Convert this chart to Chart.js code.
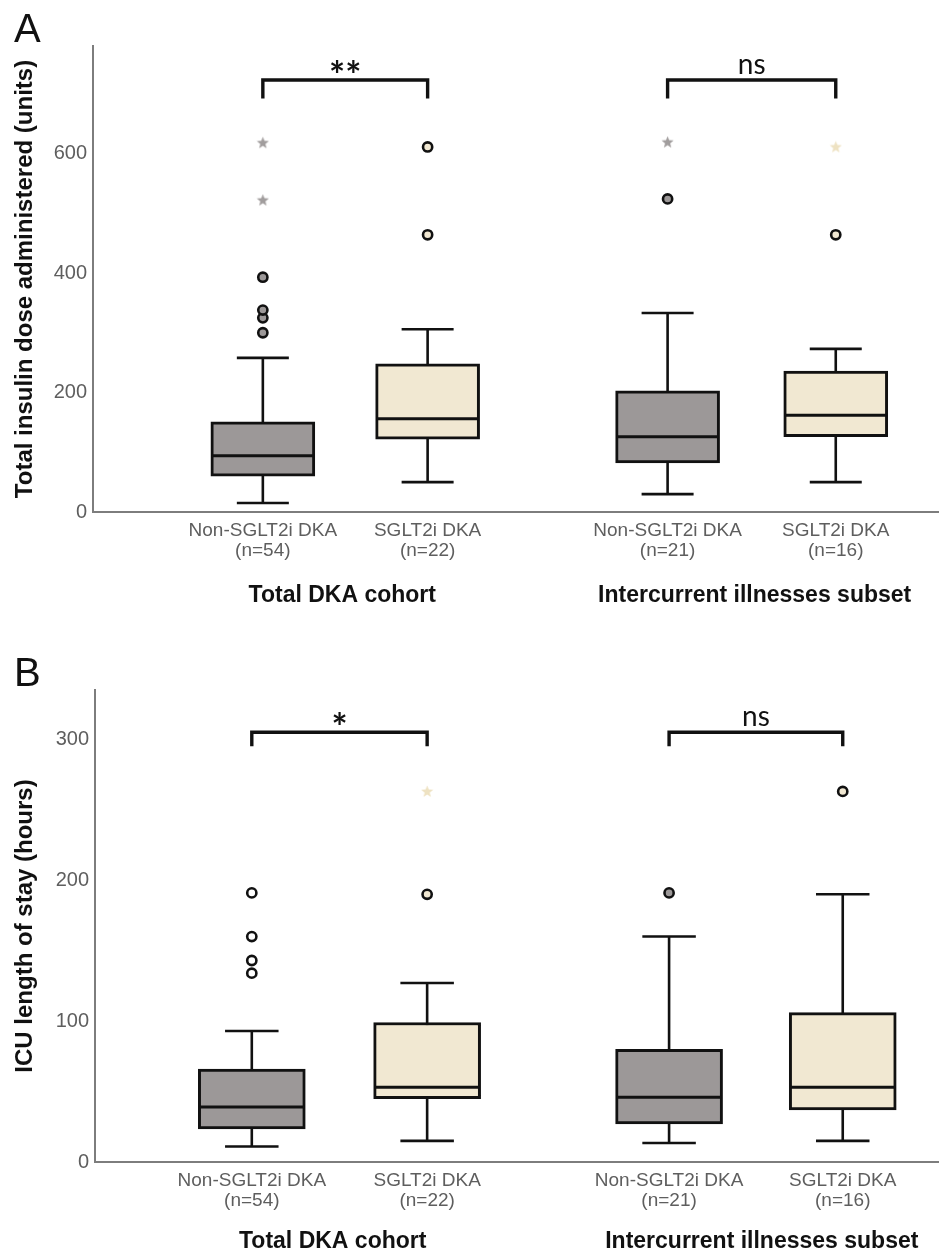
<!DOCTYPE html>
<html>
<head>
<meta charset="utf-8">
<script src="https://cdn.jsdelivr.net/npm/chart.js@4.4.0/dist/chart.umd.min.js"></script>
<style>
  body { margin:0; background:#fff; width:940px; height:1254px; position:relative; overflow:hidden; }
  canvas { position:absolute; left:0; }
  #cA { top:0; }
  #cB { top:628px; }
  .panel { position:absolute; left:14px; font-family:"Liberation Sans", Arial, sans-serif; font-size:40px; line-height:40px; color:#111; z-index:2; }
</style>
</head>
<body>
<div class="panel" style="top:8px;">A</div>
<canvas id="cA" width="940" height="628"></canvas>
<div class="panel" style="top:652px;">B</div>
<canvas id="cB" width="940" height="626"></canvas>
<script>
// ---------- data ----------
const categories = ['Non-SGLT2i DKA', 'SGLT2i DKA', 'Non-SGLT2i DKA', 'SGLT2i DKA'];
const sampleSizes = ['(n=54)', '(n=22)', '(n=21)', '(n=16)'];
const groupLabels = ['Total DKA cohort', 'Intercurrent illnesses subset'];
const significance = { A: ['**', 'ns'], B: ['*', 'ns'] };

const insulinTicks = [0, 200, 400, 600];
const insulinLow    = [15, 50, 30, 50];
const insulinQ1     = [60, 122, 82, 126];
const insulinMedian = [94, 156, 126, 162];
const insulinQ3     = [151, 248, 203, 236];
const insulinHigh   = [258, 306, 333, 273];
const insulinOutliers = [[300, 325, 338, 393], [464, 611], [524], [464]];
const insulinExtremes = [[522, 618], [], [619], [611]];

const icuTicks = [0, 100, 200, 300];
const icuLow    = [11, 15, 13.5, 15];
const icuQ1     = [23.5, 45, 27, 37];
const icuMedian = [39, 53, 46, 53];
const icuQ3     = [66, 99, 80, 106];
const icuHigh   = [93, 127, 160, 190];
const icuOutliers = [[134, 143, 160, 191], [190], [191], [263]];
const icuExtremes = [[], [263], [], []];

// ---------- styles ----------
const GRAY = '#9c9898', BEIGE = '#f1e8d2';
const INK = '#111';
const AXIS = '#7d7d7d';
const TICK = '#5e5e5e';
const FONT = '"Liberation Sans", Arial, sans-serif';

function makeStar(color) {
  const c = document.createElement('canvas');
  c.width = 13; c.height = 13;
  const g = c.getContext('2d');
  g.fillStyle = color;
  g.beginPath();
  for (let k = 0; k < 10; k++) {
    const r = k % 2 === 0 ? 6.3 : 2.7;
    const a = -Math.PI / 2 + k * Math.PI / 5;
    const px = 6.5 + r * Math.cos(a), py = 6.8 + r * Math.sin(a);
    k === 0 ? g.moveTo(px, py) : g.lineTo(px, py);
  }
  g.closePath(); g.fill();
  return c;
}
const grayStar = makeStar('#a19d9d');
const beigeStar = makeStar('#eee2c2');

const boxParts = {
  id: 'boxparts',
  beforeDatasetsDraw(chart) {
    const o = chart.options.plugins.boxparts;
    const { ctx, scales: { x, y } } = chart;
    ctx.save();
    ctx.strokeStyle = INK; ctx.lineWidth = 2.6; ctx.lineCap = 'butt';
    o.pos.forEach((p, i) => {
      const cx = x.getPixelForValue(p);
      const half = o.capHalf;
      const yl = y.getPixelForValue(o.low[i]);
      const yh = y.getPixelForValue(o.high[i]);
      ctx.beginPath();
      ctx.moveTo(cx, yl); ctx.lineTo(cx, yh);
      ctx.moveTo(cx - half, yl); ctx.lineTo(cx + half, yl);
      ctx.moveTo(cx - half, yh); ctx.lineTo(cx + half, yh);
      ctx.stroke();
    });
    ctx.restore();
  },
  afterDatasetDraw(chart, args) {
    if (args.index !== 0) return;
    const o = chart.options.plugins.boxparts;
    const { ctx, scales: { y } } = chart;
    ctx.save();
    ctx.strokeStyle = INK; ctx.lineWidth = 3;
    args.meta.data.forEach((bar, i) => {
      const ym = y.getPixelForValue(o.median[i]);
      ctx.beginPath();
      ctx.moveTo(bar.x - bar.width / 2 + 1, ym);
      ctx.lineTo(bar.x + bar.width / 2 - 1, ym);
      ctx.stroke();
    });
    ctx.restore();
  },
  afterDraw(chart) {
    const o = chart.options.plugins.boxparts;
    const { ctx, scales: { x, y } } = chart;
    ctx.save();
    ctx.strokeStyle = INK; ctx.fillStyle = INK; ctx.lineWidth = 3.4; ctx.lineJoin = 'miter';
    for (let k = 0; k < 2; k++) {
      const x1 = x.getPixelForValue(o.pos[2 * k]);
      const x2 = x.getPixelForValue(o.pos[2 * k + 1]);
      const yt = y.getPixelForValue(o.bracketTop);
      const yl = y.getPixelForValue(o.bracketLeg);
      ctx.beginPath();
      ctx.moveTo(x1, yl); ctx.lineTo(x1, yt); ctx.lineTo(x2, yt); ctx.lineTo(x2, yl);
      ctx.stroke();
      const t = o.sig[k];
      ctx.font = t === 'ns' ? '28px Lato' : 'bold 38px Lato';
      ctx.textAlign = 'center'; ctx.textBaseline = 'alphabetic';
      const m = ctx.measureText(t);
      const cy = yt - 14;
      ctx.fillText(t, (x1 + x2) / 2, cy + (m.actualBoundingBoxAscent - m.actualBoundingBoxDescent) / 2);
    }
    ctx.restore();
  }
};

function makeChart(id, o) {
  const boxData = o.pos.map((p, i) => ({ x: p, y: [o.q1[i], o.q3[i]] }));
  const circ = [], circFill = [];
  o.outliers.forEach((arr, i) => arr.forEach(v => { circ.push({ x: o.pos[i], y: v }); circFill.push(o.dotFills[i]); }));
  const stars = [], starImgs = [];
  o.extremes.forEach((arr, i) => arr.forEach(v => { stars.push({ x: o.pos[i], y: v }); starImgs.push(i % 2 ? beigeStar : grayStar); }));

  return new Chart(document.getElementById(id), {
    type: 'bar',
    data: {
      datasets: [
        { type: 'bar', data: boxData, backgroundColor: [GRAY, BEIGE, GRAY, BEIGE], borderColor: INK, borderWidth: 3,
          borderSkipped: false, barThickness: o.boxW, grouped: false, order: 2 },
        { type: 'scatter', data: circ, pointStyle: 'circle', pointRadius: 4.6, pointBorderWidth: 2.6,
          pointBorderColor: INK, pointBackgroundColor: circFill, order: 1 },
        { type: 'scatter', data: stars, pointStyle: starImgs, pointRadius: 6, order: 1 }
      ]
    },
    plugins: [boxParts],
    options: {
      responsive: false, animation: false, devicePixelRatio: 1,
      layout: { autoPadding: false, padding: { top: o.padTop, right: 2, left: 0, bottom: 0 } },
      plugins: {
        legend: { display: false }, tooltip: { enabled: false },
        boxparts: { pos: o.pos, low: o.low, high: o.high, median: o.median, capHalf: o.boxW / 4,
          bracketTop: o.bracketTop, bracketLeg: o.bracketLeg, sig: o.sig }
      },
      events: [],
      scales: {
        x: {
          type: 'linear', position: 'bottom', min: 0, max: 10, weight: 0, offset: false,
          afterBuildTicks: s => { s.ticks = o.pos.map(v => ({ value: v })); },
          afterFit: s => { s.height = 52; },
          grid: { display: false, drawTicks: false, offset: false },
          border: { display: true, color: AXIS, width: 2 },
          ticks: { autoSkip: false, maxRotation: 0, padding: 9, color: TICK,
            font: { family: FONT, size: 19, lineHeight: 1.05 },
            callback: (v, i) => [categories[i], sampleSizes[i]] }
        },
        x2: {
          type: 'linear', position: 'bottom', min: 0, max: 10, weight: 1, offset: false,
          afterBuildTicks: s => { s.ticks = o.groupPos.map(v => ({ value: v })); },
          afterFit: s => { s.height = o.x2H; },
          grid: { display: false, drawTicks: false, offset: false },
          border: { display: false },
          ticks: { autoSkip: false, maxRotation: 0, padding: o.x2Pad, color: INK,
            font: { family: FONT, size: 23, weight: 'bold' },
            callback: (v, i) => groupLabels[i] }
        },
        y: {
          type: 'linear', min: 0, max: o.yMax,
          afterBuildTicks: s => { s.ticks = o.yTicks.map(v => ({ value: v })); },
          afterFit: s => { s.width = o.yW; },
          grid: { display: false, drawTicks: false },
          border: { display: true, color: AXIS, width: 2 },
          ticks: { padding: 6, color: TICK, font: { family: FONT, size: 20 } },
          title: { display: true, text: o.yTitle, color: INK, padding: { top: 11, bottom: 0 },
            font: { family: FONT, size: 24, weight: 'bold' } }
        }
      }
    }
  });
}

makeChart('cA', {
  pos: [2.01, 3.96, 6.80, 8.79], groupPos: [2.95, 7.83], boxW: 104,
  low: insulinLow, q1: insulinQ1, median: insulinMedian, q3: insulinQ3, high: insulinHigh,
  outliers: insulinOutliers, extremes: insulinExtremes, dotFills: [GRAY, BEIGE, GRAY, BEIGE],
  yTicks: insulinTicks, yMax: 780, yW: 93, padTop: 46, x2H: 64, x2Pad: 18,
  bracketTop: 723, bracketLeg: 692, sig: significance.A,
  yTitle: 'Total insulin dose administered (units)'
});

makeChart('cB', {
  pos: [1.86, 3.94, 6.81, 8.87], groupPos: [2.82, 7.91], boxW: 107,
  low: icuLow, q1: icuQ1, median: icuMedian, q3: icuQ3, high: icuHigh,
  outliers: icuOutliers, extremes: icuExtremes, dotFills: ['#ffffff', BEIGE, GRAY, BEIGE],
  yTicks: icuTicks, yMax: 335, yW: 95, padTop: 62, x2H: 40, x2Pad: 14,
  bracketTop: 305, bracketLeg: 295, sig: significance.B,
  yTitle: 'ICU length of stay (hours)'
});
</script>
</body>
</html>
